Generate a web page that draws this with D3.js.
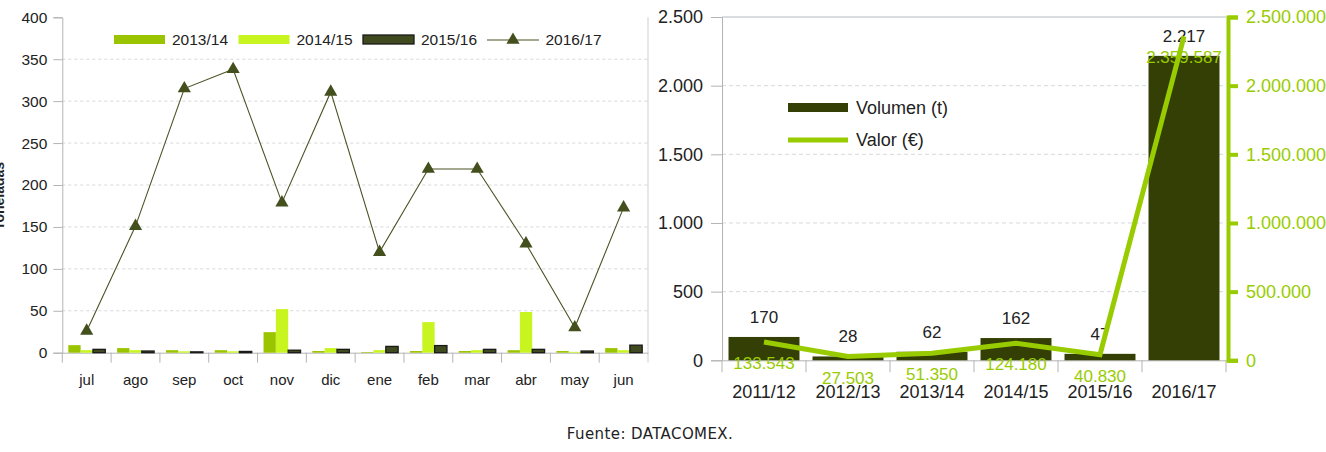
<!DOCTYPE html>
<html>
<head>
<meta charset="utf-8">
<script src="https://cdn.jsdelivr.net/npm/d3@7/dist/d3.min.js"></script>
<style>
  body { margin: 0; background: #fff; }
  text { font-family: "Liberation Sans", Arial, sans-serif; fill: #222; }
  .narrow { font-family: "Liberation Sans Narrow", "Arial Narrow", "Liberation Sans", sans-serif; }
</style>
</head>
<body>
<div id="chart"></div>
<script>
// monthly tonnes by campaign (left chart)
var months = ['jul','ago','sep','oct','nov','dic','ene','feb','mar','abr','may','jun'];
var s1314 = [9, 5.5, 3, 3, 24.5, 2, 0.8, 2, 2, 3, 2, 5.5];
var s1415 = [3, 3, 1.6, 1.6, 52, 5.5, 3, 36.5, 3, 48.5, 1, 3];
var s1516 = [4, 2, 1, 1.5, 3, 4, 7.5, 8.5, 4, 4, 2, 9];
var s1617 = [26, 151, 315, 338, 179, 311, 120, 219, 219, 130, 30, 173];
var barSeries = ['2013/14', '2014/15', '2015/16'];
var lineSeries = '2016/17';
var leftTicks = [0, 50, 100, 150, 200, 250, 300, 350, 400];

// yearly volume / value (right chart)
var campaigns = ['2011/12','2012/13','2013/14','2014/15','2015/16','2016/17'];
var volumen = [170, 28, 62, 162, 47, 2217];
var valor = [133543, 27503, 51350, 124180, 40830, 2359587];
var volTicks = [0, 500, 1000, 1500, 2000, 2500];
var valTicks = [0, 500000, 1000000, 1500000, 2000000, 2500000];

var width = 1326, height = 452;
var svg = d3.select('#chart').append('svg')
    .attr('width', width)
    .attr('height', height);

var es = d3.formatLocale({decimal: ',', thousands: '.', grouping: [3], currency: ['', '€']});
var fmt = es.format(',d');

var col = {a: '#9bc400', b: '#c8f520', c: '#3f4b1e', tri: '#434f1c', bar: '#333f05', val: '#99cc00', grid: '#d4d8da', axis: '#b4b4b4'};

// ---------- left chart ----------
var L = {x0: 62.3, x1: 648, top: 17.3, bottom: 352.7};
var x0 = d3.scaleBand().domain(months).range([L.x0, L.x1]);
var x1 = d3.scaleBand().domain(barSeries).range([6, 43]);
var yL = d3.scaleLinear().domain([0, 400]).range([L.bottom, L.top]);
var gl = svg.append('g').attr('class', 'left');

// grid
gl.selectAll('line.grid').data(leftTicks.filter(function(d) { return d > 0 && d < 400; }))
  .enter().append('line')
    .attr('x1', L.x0).attr('x2', L.x1)
    .attr('y1', function(d) { return yL(d); }).attr('y2', function(d) { return yL(d); })
    .attr('stroke', col.grid).attr('stroke-dasharray', '3,3');

// y axis
var axL = d3.axisLeft(yL).tickValues(leftTicks).tickSize(9).tickPadding(6);
gl.append('g').attr('transform', 'translate(' + L.x0 + ',0)').call(axL)
  .call(function(g) {
    g.selectAll('.domain, line').attr('stroke', col.axis);
    g.selectAll('text').style('font-size', '15.5px').attr('fill', '#222').style('font-family', '"Liberation Sans", Arial, sans-serif');
  });
gl.append('line').attr('x1', L.x1).attr('x2', L.x1).attr('y1', L.top).attr('y2', L.bottom + 10)
  .attr('stroke', '#cfcfcf');

// x axis
var axB = d3.axisBottom(x0).tickSize(0).tickPadding(22);
gl.append('g').attr('transform', 'translate(0,' + L.bottom + ')').call(axB)
  .call(function(g) {
    g.select('.domain').attr('stroke', col.axis);
    g.selectAll('text').style('font-size', '15px').attr('fill', '#222').style('font-family', '"Liberation Sans", Arial, sans-serif');
  });
gl.selectAll('line.sep').data(months).enter().append('line')
  .attr('x1', function(d) { return x0(d); }).attr('x2', function(d) { return x0(d); })
  .attr('y1', L.bottom).attr('y2', L.bottom + 10)
  .attr('stroke', col.axis);

// bars
var barData = [s1314, s1415, s1516];
var barFill = [col.a, col.b, col.c];
barData.forEach(function(vals, k) {
  gl.append('g').selectAll('rect').data(vals).enter().append('rect')
    .attr('x', function(d, i) { return x0(months[i]) + x1(barSeries[k]); })
    .attr('y', function(d) { return yL(d); })
    .attr('width', x1.bandwidth())
    .attr('height', function(d) { return yL(0) - yL(d); })
    .attr('fill', barFill[k])
    .attr('stroke', k === 2 ? '#1a1a1a' : 'none')
    .attr('stroke-width', k === 2 ? 1.3 : 0);
});

// line 2016/17
var lineL = d3.line()
  .x(function(d, i) { return x0(months[i]) + x0.bandwidth() / 2; })
  .y(function(d) { return yL(d); });
gl.append('path').datum(s1617).attr('d', lineL)
  .attr('fill', 'none').attr('stroke', '#4b5325').attr('stroke-width', 1.1);
var tri = d3.symbol().type(d3.symbolTriangle).size(75);
gl.selectAll('path.tri').data(s1617).enter().append('path')
  .attr('d', tri)
  .attr('transform', function(d, i) { return 'translate(' + (x0(months[i]) + x0.bandwidth() / 2) + ',' + yL(d) + ')'; })
  .attr('fill', col.tri);

// legend
var lg = gl.append('g').attr('transform', 'translate(114,0)');
barSeries.forEach(function(s, k) {
  lg.append('rect').attr('x', k * 124.5).attr('y', 35).attr('width', 51).attr('height', 9)
    .attr('fill', barFill[k])
    .attr('stroke', k === 2 ? '#1a1a1a' : 'none').attr('stroke-width', 1.3);
  lg.append('text').attr('x', k * 124.5 + 58).attr('y', 45).style('font-size', '15.5px').text(s);
});
lg.append('line').attr('x1', 3 * 124.5 - 0.5).attr('x2', 3 * 124.5 + 51.5).attr('y1', 40).attr('y2', 40)
  .attr('stroke', '#4b5325').attr('stroke-width', 1.1);
lg.append('path').attr('d', tri).attr('transform', 'translate(' + (3 * 124.5 + 25.5) + ',40)').attr('fill', col.tri);
lg.append('text').attr('x', 3 * 124.5 + 58).attr('y', 45).style('font-size', '15.5px').text(lineSeries);

// y title, cut at the edge
gl.append('text').attr('transform', 'translate(4,196) rotate(-90)')
  .attr('text-anchor', 'middle').style('font-size', '14px').style('font-weight', 'bold')
  .text('Toneladas');

// ---------- right chart ----------
var R = {x0: 722, x1: 1226, top: 17, bottom: 360.3};
var xr = d3.scaleBand().domain(campaigns).range([R.x0, R.x1]).paddingInner(0.155).paddingOuter(0.0775);
var yV = d3.scaleLinear().domain([0, 2500]).range([R.bottom, R.top]);
var yE = d3.scaleLinear().domain([0, 2500000]).range([R.bottom, R.top]);
var gr = svg.append('g').attr('class', 'right');

gr.selectAll('line.grid').data(volTicks.filter(function(d) { return d > 0 && d < 2500; }))
  .enter().append('line')
    .attr('x1', R.x0).attr('x2', R.x1)
    .attr('y1', function(d) { return yV(d); }).attr('y2', function(d) { return yV(d); })
    .attr('stroke', col.grid).attr('stroke-dasharray', '4,3');
gr.append('line').attr('x1', R.x0).attr('x2', R.x1).attr('y1', yV(2500)).attr('y2', yV(2500))
  .attr('stroke', '#cdd2d4').attr('stroke-width', 1.5);

var axV = d3.axisLeft(yV).tickValues(volTicks).tickSize(11).tickPadding(8).tickFormat(fmt);
gr.append('g').attr('transform', 'translate(' + R.x0 + ',0)').call(axV)
  .call(function(g) {
    g.selectAll('.domain, line').attr('stroke', col.axis);
    g.selectAll('text').style('font-size', '18px').attr('fill', '#222').style('font-family', '"Liberation Sans", Arial, sans-serif');
  });

var stepR = xr.step();
var axC = d3.axisBottom(xr).tickSize(0).tickPadding(25);
gr.append('g').attr('transform', 'translate(0,' + R.bottom + ')').call(axC)
  .call(function(g) {
    g.select('.domain').attr('stroke', col.axis);
    g.selectAll('text').style('font-size', '18px').attr('fill', '#222').style('font-family', '"Liberation Sans", Arial, sans-serif');
  });
gr.selectAll('line.sep').data(d3.range(campaigns.length + 1)).enter().append('line')
  .attr('x1', function(i) { return R.x0 + i * stepR; }).attr('x2', function(i) { return R.x0 + i * stepR; })
  .attr('y1', R.bottom).attr('y2', R.bottom + 12)
  .attr('stroke', col.axis);

// bars
gr.selectAll('rect.vol').data(volumen).enter().append('rect')
  .attr('x', function(d, i) { return xr(campaigns[i]); })
  .attr('y', function(d) { return yV(d); })
  .attr('width', xr.bandwidth())
  .attr('height', function(d) { return yV(0) - yV(d); })
  .attr('fill', col.bar);

var cx = function(i) { return xr(campaigns[i]) + xr.bandwidth() / 2; };

// labels
gr.selectAll('text.vl').data(volumen).enter().append('text')
  .attr('class', 'narrow')
  .attr('x', function(d, i) { return cx(i); })
  .attr('y', function(d) { return yV(d) - 14; })
  .attr('text-anchor', 'middle').style('font-size', '17px').attr('fill', '#222')
  .text(fmt);
gr.selectAll('text.el').data(valor).enter().append('text')
  .attr('class', 'narrow')
  .attr('x', function(d, i) { return cx(i); })
  .attr('y', function(d) { return yE(d) + 27; })
  .attr('text-anchor', 'middle').style('font-size', '17px').style('fill', col.val)
  .text(fmt);

// value line
var lineR = d3.line().x(function(d, i) { return cx(i); }).y(function(d) { return yE(d); });
gr.append('path').datum(valor).attr('d', lineR)
  .attr('fill', 'none').attr('stroke', col.val).attr('stroke-width', 5);

// right axis
var axE = d3.axisRight(yE).tickValues(valTicks).tickSize(10).tickPadding(8).tickFormat(fmt);
gr.append('g').attr('transform', 'translate(1228,0)').call(axE)
  .call(function(g) {
    g.select('.domain').attr('stroke', col.val).attr('stroke-width', 4);
    g.selectAll('line').attr('stroke', col.val).attr('stroke-width', 4);
    g.selectAll('text').style('font-size', '18px').style('fill', col.val).style('font-family', '"Liberation Sans", Arial, sans-serif');
  });

// legend
var lr = gr.append('g').attr('transform', 'translate(788,0)');
lr.append('rect').attr('x', 0).attr('y', 103).attr('width', 60).attr('height', 9).attr('fill', col.bar);
lr.append('text').attr('x', 68).attr('y', 114).style('font-size', '18px').text('Volumen (t)');
lr.append('line').attr('x1', 0).attr('x2', 60).attr('y1', 140).attr('y2', 140)
  .attr('stroke', col.val).attr('stroke-width', 5);
lr.append('text').attr('x', 68).attr('y', 146).style('font-size', '18px').text('Valor (€)');

// source
svg.append('text').attr('x', 650).attr('y', 439).attr('text-anchor', 'middle')
  .style('font-family', '"DejaVu Sans", sans-serif').style('font-size', '15px').style('letter-spacing', '0.4px')
  .attr('fill', '#333')
  .text('Fuente: DATACOMEX.');
</script>
</body>
</html>
